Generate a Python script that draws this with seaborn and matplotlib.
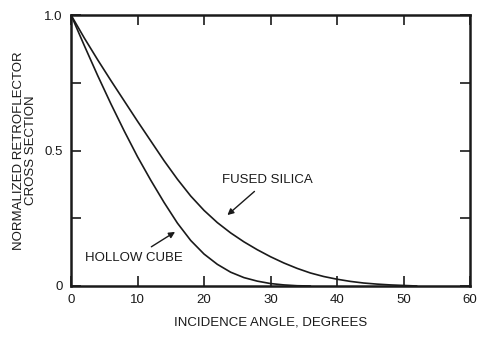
import matplotlib
matplotlib.use("Agg")
import matplotlib.pyplot as plt
import seaborn as sns
import pandas as pd

# Data
hollow_angle = [0, 2, 4, 6, 8, 10, 12, 14, 16, 18, 20, 22, 24, 26, 28, 30, 32, 34, 36]
hollow_value = [1.0, 0.887, 0.777, 0.672, 0.572, 0.477, 0.39, 0.308, 0.232, 0.168,
                0.118, 0.08, 0.051, 0.031, 0.018, 0.009, 0.004, 0.001, 0.0]
silica_angle = [0, 2, 4, 6, 8, 10, 12, 14, 16, 18, 20, 22, 24, 26, 28, 30, 32, 34,
                36, 38, 40, 42, 44, 46, 48, 50, 52]
silica_value = [1.0, 0.915, 0.835, 0.758, 0.683, 0.608, 0.535, 0.462, 0.394, 0.332,
                0.279, 0.234, 0.196, 0.163, 0.134, 0.108, 0.085, 0.065, 0.048, 0.035,
                0.025, 0.017, 0.011, 0.007, 0.004, 0.002, 0.0]
x_ticks = [0, 10, 20, 30, 40, 50, 60]
y_ticks = [0, 0.25, 0.5, 0.75, 1.0]
y_ticklabels = ["0", "", "0.5", "", "1.0"]
series_names = ["HOLLOW CUBE", "FUSED SILICA"]

df = pd.concat([
    pd.DataFrame({"angle": hollow_angle, "value": hollow_value, "series": series_names[0]}),
    pd.DataFrame({"angle": silica_angle, "value": silica_value, "series": series_names[1]}),
])

sns.set_style("ticks")
plt.rcParams["font.family"] = ["Liberation Sans", "DejaVu Sans"]

fig = plt.figure(figsize=(4.97, 3.41), dpi=100)
ax = fig.add_axes([0.1429, 0.1613, 0.8028, 0.7947])

sns.lineplot(data=df, x="angle", y="value", hue="series",
             palette={series_names[0]: "#1a1a1a", series_names[1]: "#1a1a1a"},
             linewidth=1.2, legend=False, ax=ax, estimator=None, sort=True)

ax.set_xlim(0, 60)
ax.set_ylim(0, 1.0)
ax.set_xticks(x_ticks)
ax.set_xticklabels([str(t) for t in x_ticks])
ax.set_yticks(y_ticks)
ax.set_yticklabels(y_ticklabels)
ax.tick_params(direction="in", length=7, width=1.2, color="#1a1a1a",
               labelsize=9.5, labelcolor="#1a1a1a", top=True, right=True, pad=6)
for s in ax.spines.values():
    s.set_visible(True)
    s.set_linewidth(1.8)
    s.set_color("#1a1a1a")

ax.set_xlabel("INCIDENCE ANGLE, DEGREES", fontsize=9.5, color="#1a1a1a", labelpad=7)
ax.set_ylabel("NORMALIZED RETROFLECTOR\nCROSS SECTION", fontsize=9.5,
              color="#1a1a1a", labelpad=5, linespacing=1.0)

arrowprops = dict(arrowstyle="-|>", color="#1a1a1a", lw=1.0, mutation_scale=9)
ax.annotate("FUSED SILICA", xy=(23.2, 0.255), xytext=(29.5, 0.39),
            fontsize=9.5, color="#1a1a1a", ha="center", va="center",
            arrowprops=arrowprops)
ax.annotate("HOLLOW CUBE", xy=(16.0, 0.205), xytext=(9.5, 0.105),
            fontsize=9.5, color="#1a1a1a", ha="center", va="center",
            arrowprops=arrowprops)

fig.savefig("out.png", dpi=100)
